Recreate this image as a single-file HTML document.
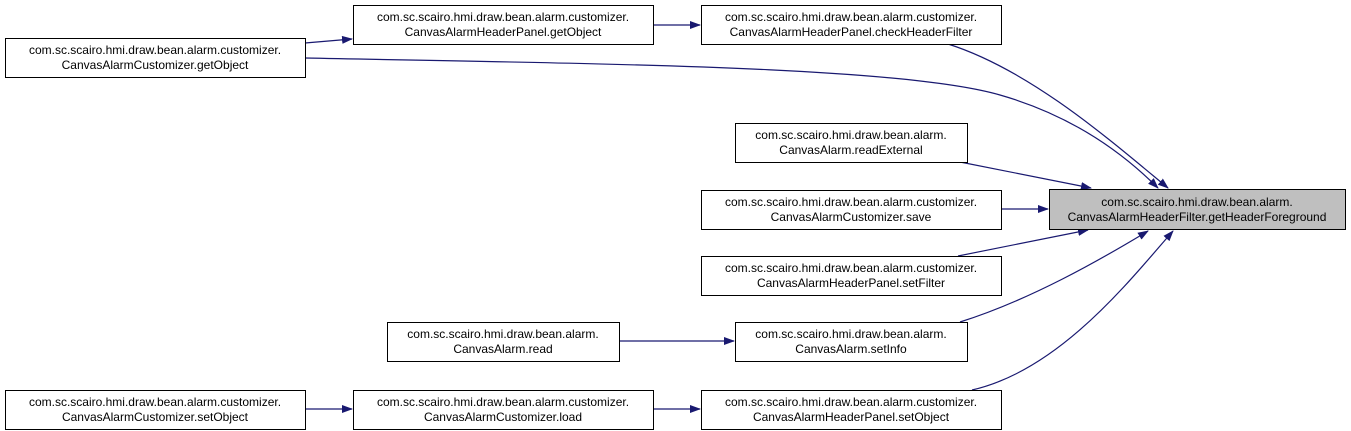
<!DOCTYPE html>
<html><head><meta charset="utf-8"><style>
html,body{margin:0;padding:0;background:#fff;}
svg{display:block;}
text{font-family:"Liberation Sans",Arial,sans-serif;font-size:12px;fill:#000;}
</style></head><body>
<svg width="1351" height="431" viewBox="0 0 1351 431" xmlns="http://www.w3.org/2000/svg">
<defs>
<marker id="a" markerWidth="11" markerHeight="8" refX="10" refY="4" orient="auto" markerUnits="userSpaceOnUse">
<path d="M0,0 L11,4 L0,8 Z" fill="#191970"/>
</marker>
</defs>
<g fill="none" stroke="#191970" stroke-width="1.2" marker-end="url(#a)">
<path d="M305,43 L352,39"/>
<path d="M653,25 L700,25"/>
<path d="M948,44 C1030,70 1110,140 1168,188"/>
<path d="M305,58 C600,64 900,66 1000,95 C1070,115 1120,150 1158,188"/>
<path d="M960,162 L1091,188"/>
<path d="M1001,209 L1048,209"/>
<path d="M958,256 L1088,230"/>
<path d="M960,322 C1030,300 1100,260 1148,231"/>
<path d="M619,341 L734,341"/>
<path d="M972,390 C1060,370 1130,280 1173,231"/>
<path d="M305,409 L352,409"/>
<path d="M653,409 L700,409"/>
</g>
<g stroke="#000" stroke-width="1" fill="#fff">
<rect x="5.5" y="38.5" width="300" height="39"/>
<rect x="353.5" y="5.5" width="300" height="39"/>
<rect x="701.5" y="5.5" width="300" height="39"/>
<rect x="735.5" y="123.5" width="232" height="39"/>
<rect x="701.5" y="190.5" width="300" height="39"/>
<rect x="701.5" y="256.5" width="300" height="39"/>
<rect x="387.5" y="322.5" width="232" height="39"/>
<rect x="735.5" y="322.5" width="232" height="39"/>
<rect x="5.5" y="390.5" width="300" height="39"/>
<rect x="353.5" y="390.5" width="300" height="39"/>
<rect x="701.5" y="390.5" width="300" height="39"/>
<rect x="1049.5" y="189.5" width="296" height="40" fill="#bfbfbf"/>
</g>
<g text-anchor="middle">
<text x="155" y="54">com.sc.scairo.hmi.draw.bean.alarm.customizer.</text><text x="155" y="69">CanvasAlarmCustomizer.getObject</text>
<text x="503" y="21">com.sc.scairo.hmi.draw.bean.alarm.customizer.</text><text x="503" y="36">CanvasAlarmHeaderPanel.getObject</text>
<text x="851" y="21">com.sc.scairo.hmi.draw.bean.alarm.customizer.</text><text x="851" y="36">CanvasAlarmHeaderPanel.checkHeaderFilter</text>
<text x="851" y="139">com.sc.scairo.hmi.draw.bean.alarm.</text><text x="851" y="154">CanvasAlarm.readExternal</text>
<text x="851" y="206">com.sc.scairo.hmi.draw.bean.alarm.customizer.</text><text x="851" y="221">CanvasAlarmCustomizer.save</text>
<text x="851" y="272">com.sc.scairo.hmi.draw.bean.alarm.customizer.</text><text x="851" y="287">CanvasAlarmHeaderPanel.setFilter</text>
<text x="503" y="338">com.sc.scairo.hmi.draw.bean.alarm.</text><text x="503" y="353">CanvasAlarm.read</text>
<text x="851" y="338">com.sc.scairo.hmi.draw.bean.alarm.</text><text x="851" y="353">CanvasAlarm.setInfo</text>
<text x="155" y="406">com.sc.scairo.hmi.draw.bean.alarm.customizer.</text><text x="155" y="421">CanvasAlarmCustomizer.setObject</text>
<text x="503" y="406">com.sc.scairo.hmi.draw.bean.alarm.customizer.</text><text x="503" y="421">CanvasAlarmCustomizer.load</text>
<text x="851" y="406">com.sc.scairo.hmi.draw.bean.alarm.customizer.</text><text x="851" y="421">CanvasAlarmHeaderPanel.setObject</text>
<text x="1197" y="206">com.sc.scairo.hmi.draw.bean.alarm.</text><text x="1197" y="221">CanvasAlarmHeaderFilter.getHeaderForeground</text>
</g>
</svg>
</body></html>
